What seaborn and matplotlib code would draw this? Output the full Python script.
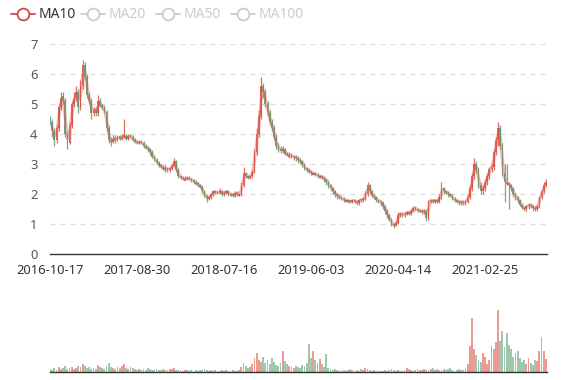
import numpy as np
import pandas as pd
import matplotlib
matplotlib.use("Agg")
import matplotlib.pyplot as plt
from matplotlib.lines import Line2D
import seaborn as sns

# ---------------- data (one candle ~ one week) ----------------
tick_labels = ["2016-10-17", "2017-08-30", "2018-07-16", "2019-06-03", "2020-04-14", "2021-02-25"]
tick_pos = [0, 40, 80, 120, 160, 200]

close = [4.4,4.1,3.8,4.2,4.9,5.2,5.1,4.0,3.7,4.3,
         5.0,5.2,5.4,4.9,5.6,6.3,5.9,5.3,5.1,4.7,
         4.8,4.7,5.1,4.95,4.9,4.75,4.2,3.8,3.75,3.85,
         3.8,3.9,3.85,3.9,3.95,3.85,3.95,3.9,3.8,3.75,
         3.7,3.75,3.7,3.6,3.55,3.5,3.4,3.25,3.15,3.05,
         2.95,2.9,2.85,2.85,2.8,2.85,2.95,3.1,2.8,2.6,
         2.55,2.5,2.5,2.55,2.5,2.45,2.4,2.35,2.3,2.25,
         2.1,1.95,1.85,1.9,2.0,2.1,2.05,2.05,2.1,2.0,
         2.05,2.1,2.0,2.0,1.95,2.05,2.0,2.0,2.3,2.7,
         2.6,2.55,2.6,2.75,3.4,4.0,4.6,5.6,5.4,5.0,
         4.7,4.4,4.2,3.9,3.6,3.5,3.45,3.5,3.35,3.3,
         3.3,3.25,3.25,3.2,3.15,3.1,3.0,2.85,2.8,2.75,
         2.7,2.7,2.65,2.6,2.6,2.55,2.5,2.4,2.3,2.2,
         2.1,2.0,1.95,1.9,1.85,1.8,1.8,1.75,1.75,1.8,
         1.75,1.7,1.8,1.8,1.85,2.0,2.3,2.1,1.95,1.9,
         1.8,1.75,1.72,1.6,1.45,1.3,1.15,1.0,0.95,1.05,
         1.3,1.35,1.3,1.35,1.4,1.35,1.45,1.55,1.5,1.45,
         1.45,1.4,1.45,1.2,1.75,1.8,1.75,1.8,1.75,1.9,
         2.2,2.1,2.05,2.0,1.95,1.85,1.8,1.75,1.72,1.75,
         1.7,1.75,1.9,2.2,2.6,3.0,2.8,2.3,2.1,2.2,
         2.4,2.6,2.85,2.9,3.4,3.8,4.2,3.6,2.7,2.4,
         2.35,2.3,2.2,2.0,1.9,1.8,1.65,1.55,1.5,1.6,
         1.65,1.6,1.55,1.5,1.6,1.9,2.1,2.3,2.4]

open_ = [4.5,4.4,4.1,3.8,4.2,4.9,5.25,5.1,4.0,3.7,
         4.3,5.0,5.2,5.4,4.9,5.6,6.3,5.9,5.3,5.1,
         4.7,4.85,4.7,5.1,4.95,4.9,4.75,4.2,3.8,3.75,
         3.85,3.8,3.92,3.85,3.9,3.95,3.85,3.95,3.9,3.8,
         3.75,3.7,3.75,3.7,3.6,3.55,3.5,3.4,3.25,3.15,
         3.05,2.95,2.9,2.8,2.85,2.8,2.85,2.95,3.1,2.8,
         2.6,2.55,2.45,2.5,2.55,2.5,2.45,2.4,2.35,2.3,
         2.25,2.1,1.95,1.85,1.9,2.0,2.1,2.0,2.05,2.1,
         2.0,2.05,2.1,1.95,2.0,1.95,2.05,1.95,2.0,2.3,
         2.7,2.6,2.55,2.6,2.75,3.4,4.0,4.6,5.6,5.4,
         5.0,4.7,4.4,4.2,3.9,3.6,3.5,3.45,3.5,3.35,
         3.25,3.3,3.2,3.25,3.2,3.15,3.1,3.0,2.85,2.8,
         2.75,2.65,2.7,2.65,2.55,2.6,2.55,2.5,2.4,2.3,
         2.2,2.1,2.0,1.95,1.9,1.85,1.75,1.8,1.8,1.75,
         1.8,1.75,1.7,1.85,1.8,1.85,2.0,2.3,2.1,1.95,
         1.9,1.8,1.75,1.72,1.6,1.45,1.3,1.15,1.0,0.95,
         1.05,1.3,1.35,1.3,1.35,1.4,1.35,1.45,1.55,1.5,
         1.4,1.45,1.4,1.45,1.2,1.75,1.8,1.75,1.8,1.75,
         1.9,2.2,2.1,2.05,2.0,1.95,1.85,1.8,1.75,1.7,
         1.75,1.7,1.75,1.9,2.2,2.6,3.0,2.8,2.3,2.1,
         2.2,2.4,2.6,2.85,2.9,3.4,3.8,4.2,3.6,2.7,
         2.4,2.35,2.3,2.2,2.0,1.9,1.8,1.65,1.55,1.5,
         1.6,1.65,1.6,1.55,1.5,1.6,1.9,2.1,2.3]

high = [4.6,4.5,4.2,4.3,5.0,5.4,5.4,5.2,4.1,4.4,
        5.1,5.4,5.6,5.5,5.8,6.45,6.4,6.0,5.4,5.2,
        4.9,4.9,5.3,5.2,5.0,4.95,4.8,4.3,3.9,3.95,
        3.95,3.95,3.95,4.0,4.5,4.0,4.0,4.0,3.95,3.85,
        3.8,3.8,3.8,3.75,3.65,3.6,3.55,3.45,3.3,3.2,
        3.1,3.0,2.95,2.95,2.9,2.9,3.0,3.2,3.15,2.85,
        2.65,2.6,2.6,2.6,2.6,2.55,2.5,2.45,2.4,2.35,
        2.3,2.15,2.0,1.95,2.05,2.15,2.15,2.1,2.2,2.15,
        2.1,2.15,2.15,2.05,2.05,2.1,2.1,2.05,2.4,2.9,
        2.75,2.65,2.65,2.8,3.5,4.2,4.8,5.9,5.7,5.5,
        5.1,4.8,4.5,4.3,4.0,3.7,3.6,3.6,3.55,3.4,
        3.4,3.35,3.3,3.3,3.25,3.2,3.15,3.05,2.9,2.85,
        2.8,2.75,2.75,2.7,2.65,2.65,2.6,2.55,2.45,2.35,
        2.25,2.15,2.05,2.0,1.95,1.9,1.85,1.85,1.8,1.85,
        1.85,1.8,1.85,1.85,1.9,2.1,2.4,2.35,2.15,2.0,
        1.95,1.85,1.8,1.75,1.65,1.5,1.35,1.2,1.05,1.1,
        1.4,1.4,1.4,1.4,1.45,1.45,1.5,1.6,1.6,1.55,
        1.5,1.5,1.5,1.5,1.8,1.85,1.85,1.85,1.85,2.0,
        2.4,2.25,2.15,2.1,2.05,2.0,1.9,1.85,1.8,1.8,
        1.8,1.8,2.0,2.3,2.7,3.2,3.1,2.9,2.4,2.3,
        2.5,2.7,2.9,3.0,3.5,3.9,4.4,4.3,3.7,3.0,
        3.0,2.4,2.35,2.25,2.05,1.95,1.85,1.7,1.6,1.65,
        1.7,1.7,1.65,1.6,1.65,1.95,2.15,2.4,2.5]

low = [4.3,3.9,3.6,3.7,4.1,4.8,5.0,3.9,3.5,3.65,
       4.2,4.9,5.1,4.7,4.8,5.5,5.8,5.2,5.0,4.5,
       4.6,4.6,4.6,4.9,4.8,4.7,4.1,3.7,3.6,3.7,
       3.7,3.75,3.8,3.8,3.85,3.8,3.8,3.85,3.75,3.7,
       3.65,3.65,3.65,3.55,3.5,3.4,3.3,3.2,3.1,3.0,
       2.9,2.85,2.8,2.75,2.75,2.75,2.8,2.9,2.75,2.55,
       2.5,2.45,2.45,2.45,2.45,2.4,2.35,2.3,2.25,2.2,
       2.05,1.9,1.75,1.8,1.85,1.95,2.0,2.0,2.0,1.95,
       1.95,2.0,1.95,1.95,1.9,1.9,1.95,1.95,1.95,2.25,
       2.55,2.5,2.5,2.55,2.7,3.3,3.9,4.5,5.2,4.9,
       4.6,4.3,4.1,3.8,3.5,3.4,3.35,3.35,3.3,3.25,
       3.2,3.2,3.15,3.1,3.05,3.0,2.9,2.8,2.75,2.7,
       2.65,2.65,2.6,2.55,2.55,2.5,2.4,2.3,2.2,2.1,
       2.0,1.9,1.85,1.85,1.8,1.75,1.75,1.7,1.7,1.7,
       1.7,1.65,1.65,1.75,1.75,1.8,1.95,2.0,1.9,1.85,
       1.75,1.7,1.6,1.5,1.35,1.2,1.1,0.95,0.88,0.92,
       1.0,1.25,1.25,1.25,1.3,1.3,1.3,1.4,1.45,1.4,
       1.4,1.35,1.35,1.1,1.15,1.7,1.7,1.7,1.7,1.7,
       1.85,2.0,2.0,1.9,1.9,1.8,1.75,1.7,1.65,1.65,
       1.65,1.65,1.7,1.85,2.1,2.5,2.7,2.2,2.0,2.0,
       2.1,2.3,2.5,2.75,2.8,3.3,3.6,3.5,2.6,1.75,
       2.3,1.5,2.1,1.9,1.8,1.7,1.6,1.5,1.45,1.45,
       1.5,1.55,1.45,1.45,1.45,1.55,1.85,2.05,2.25]

volume = [3,2,4,2,5,3,4,6,3,4,
          5,3,4,6,5,8,6,4,5,3,
          4,3,7,5,4,3,6,9,5,4,
          3,5,4,6,8,4,3,5,4,3,
          2,3,2,3,2,4,3,2,2,3,
          2,2,3,2,2,3,3,4,2,2,
          2,1,2,2,1,2,1,2,1,2,
          2,3,2,1,2,1,2,1,1,2,
          1,2,1,1,2,1,1,2,5,9,
          6,4,5,8,14,18,12,10,15,9,
          12,8,14,10,7,6,9,20,11,8,
          6,5,4,6,5,4,7,6,9,27,
          14,20,12,9,13,8,5,17,4,3,
          2,3,2,1,2,2,1,2,3,2,
          1,2,1,3,2,4,3,2,1,2,
          1,2,1,1,2,1,2,3,2,1,
          2,1,1,2,4,3,2,1,2,3,
          2,2,3,2,2,3,4,2,3,2,
          2,3,2,3,4,2,1,2,3,2,
          2,3,8,25,52,22,16,12,10,18,
          15,8,12,25,22,29,60,30,40,24,
          38,26,22,15,18,20,14,10,12,8,
          14,9,7,12,11,20,34,20,13]

legend_names = ["MA10", "MA20", "MA50", "MA100"]

# ---------------- styling ----------------
UP = "#d9493a"
DOWN = "#4f9a6c"
MA_COLOR = "#e06a60"

sns.set_theme(style="white")
plt.rcParams["font.family"] = ["Noto Sans", "DejaVu Sans"]

df = pd.DataFrame({"idx": np.arange(len(close)), "open": open_, "close": close,
                   "high": high, "low": low, "volume": volume})
df["ma"] = df["close"].rolling(2).mean()
df["up"] = df["close"] >= df["open"]

W, H = 577, 380
fig = plt.figure(figsize=(W / 100, H / 100), dpi=100)
x0, x1 = 50, 547
ax = fig.add_axes([x0 / W, (H - 254) / H, (x1 - x0) / W, 210 / H])
axv = fig.add_axes([x0 / W, (H - 372) / H, (x1 - x0) / W, 62 / H])

# candles
cols = np.where(df["up"], UP, DOWN)
ax.vlines(df["idx"], df["low"], df["high"], colors=cols, linewidth=0.9, alpha=0.8, zorder=2)
body_b = np.minimum(df["open"], df["close"])
body_h = np.maximum(np.abs(df["close"] - df["open"]), 0.05)
ax.bar(df["idx"], body_h, bottom=body_b, width=0.8, color=cols, alpha=0.85,
       linewidth=0, zorder=3)
sns.lineplot(data=df, x="idx", y="ma", ax=ax, color=MA_COLOR, linewidth=2.2,
             alpha=0.45, zorder=4, legend=False)

ax.set_xlim(0, (x1 - x0) / 2.175)
ax.set_ylim(0, 7)
ax.set_yticks(range(0, 8))
ax.set_yticklabels([str(v) for v in range(0, 8)])
for v in range(1, 8):
    ax.axhline(v, color="#dcdcdc", linestyle=(0, (4, 4)), linewidth=0.9, zorder=0)
ax.set_xticks(tick_pos)
ax.set_xticklabels(tick_labels)
ax.set_xlabel("")
ax.set_ylabel("")
for s in ["top", "right", "left"]:
    ax.spines[s].set_visible(False)
ax.spines["bottom"].set_color("#333333")
ax.spines["bottom"].set_linewidth(1.0)
ax.tick_params(axis="x", direction="out", length=5, width=1, color="#333333",
               labelsize=9.3, labelcolor="#333333", pad=2)
ax.tick_params(axis="y", length=0, labelsize=9.3, labelcolor="#555555", pad=9)
ax.grid(False)

# volume
axv.bar(df["idx"], df["volume"], width=0.85, color=cols, alpha=0.55, linewidth=0)
axv.set_xlim(ax.get_xlim())
axv.set_ylim(0, 60)
axv.set_xticks([])
axv.set_yticks([])
for s in ["top", "right", "left"]:
    axv.spines[s].set_visible(False)
axv.spines["bottom"].set_color("#333333")
axv.spines["bottom"].set_linewidth(1.0)
axv.grid(False)

# legend (MA10 active, others disabled)
leg_x = [11, 81, 156, 231]
yc = 1 - 14 / H
for name, lx, i in zip(legend_names, leg_x, range(4)):
    c = "#d14a44" if i == 0 else "#cccccc"
    tc = "#333333" if i == 0 else "#cccccc"
    fig.add_artist(Line2D([lx / W, (lx + 24) / W], [yc, yc], color=c, linewidth=1.3,
                          transform=fig.transFigure))
    fig.add_artist(Line2D([(lx + 12) / W], [yc], marker="o", markersize=8.5,
                          markerfacecolor="white", markeredgecolor=c, markeredgewidth=1.3,
                          transform=fig.transFigure))
    fig.text((lx + 28) / W, yc, name, color=tc, fontsize=10, va="center", ha="left")

fig.savefig("out.png", dpi=100)
